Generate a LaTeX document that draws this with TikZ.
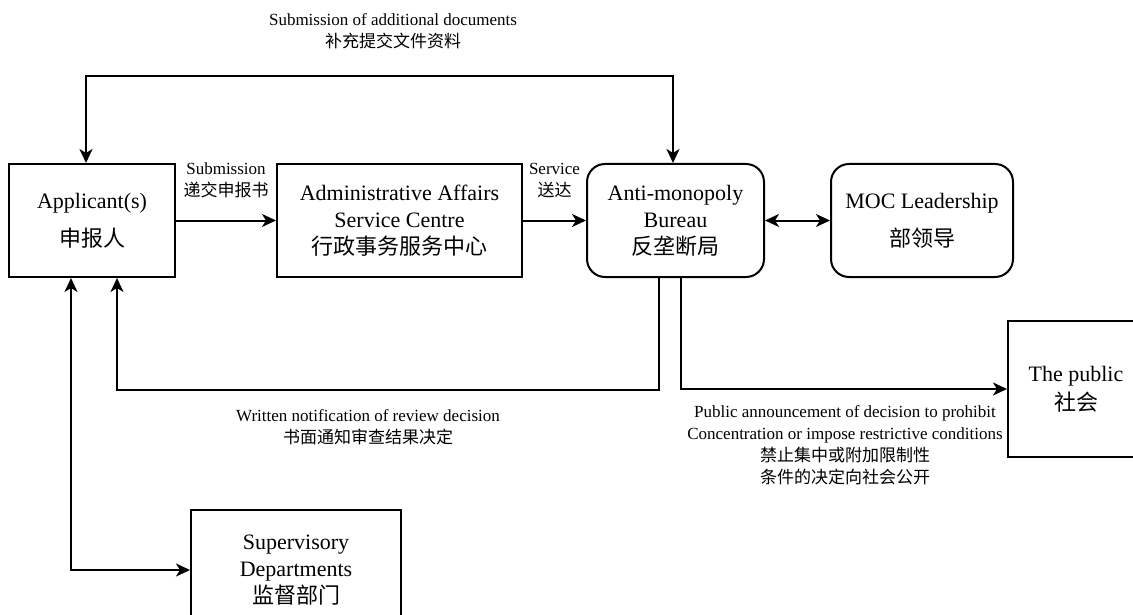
\documentclass[tikz,border=0pt]{standalone}
\usepackage{fontspec}
\setmainfont{Liberation Serif}
\newfontfamily\cjk{Noto Sans CJK SC}
\usetikzlibrary{arrows.meta}

\begin{document}
\begin{tikzpicture}[x=1pt, y=-1pt, line width=2pt,
    >={Stealth[length=14pt,width=13pt,inset=4pt]},
    box/.style={draw, rectangle, align=center, inner sep=0pt,
        font=\fontsize{22}{27}\selectfont},
    rbox/.style={box, rounded corners=18pt},
    lbl/.style={align=center, inner sep=0pt, font=\fontsize{17}{22}\selectfont}]
    \useasboundingbox (0,0) rectangle (1133,615);

    % main row
    \node[box, minimum width=166, minimum height=113] (app) at (92,220.5)
        {Applicant(s)\\[11pt]{\cjk 申报人}};
    \node[box, minimum width=245, minimum height=113] (admin) at (399.5,220.5)
        {Administrative Affairs\\Service Centre\\{\cjk 行政事务服务中心}};
    \node[rbox, minimum width=177, minimum height=113] (bureau) at (675.5,220.5)
        {Anti-monopoly\\Bureau\\{\cjk 反垄断局}};
    \node[rbox, minimum width=182, minimum height=113] (moc) at (922,220.5)
        {MOC Leadership\\[11pt]{\cjk 部领导}};

    % outside parties
    \node[box, minimum width=136, minimum height=136] (public) at (1076,389)
        {The public\\[2pt]{\cjk 社会}};
    \node[box, minimum width=210, minimum height=120] (sup) at (296,570)
        {Supervisory\\Departments\\{\cjk 监督部门}};

    % levels of the feedback lines
    \coordinate (fb) at (0,76);
    \coordinate (low) at (0,390);

    % submission and service
    \draw[->] (app.east) -- node[lbl, midway, above=22pt] (sub)
        {Submission\\{\cjk 递交申报书}} (admin.west);
    \draw[->] (admin.east) -- node[lbl, midway, above=22pt] (serv)
        {Service\\{\cjk 送达}} (bureau.west);
    \draw[<->] (bureau.east) -- (moc.west);

    % additional documents
    \draw[<->] ([xshift=-6pt]app.north) -- ([xshift=-6pt]app.north |- fb)
        -| ([xshift=-2.5pt]bureau.north);
    \node[lbl] (addl) at (393,31) {Submission of additional documents\\{\cjk 补充提交文件资料}};

    % review decision
    \draw[->] ([xshift=-16.5pt]bureau.south) -- ([xshift=-16.5pt]bureau.south |- low)
        -| ([xshift=25pt]app.south);
    \node[lbl] (notif) at (368,427) {Written notification of review decision\\{\cjk 书面通知审查结果决定}};

    % announcement
    \draw[->] ([xshift=5.5pt]bureau.south) |- (public.west);
    \node[lbl] (annc) at (845,445) {Public announcement of decision to prohibit\\
        Concentration or impose restrictive conditions\\
        {\cjk 禁止集中或附加限制性}\\{\cjk 条件的决定向社会公开}};

    % supervision
    \draw[<->] ([xshift=-21pt]app.south) |- (sup.west);
\end{tikzpicture}
\end{document}
